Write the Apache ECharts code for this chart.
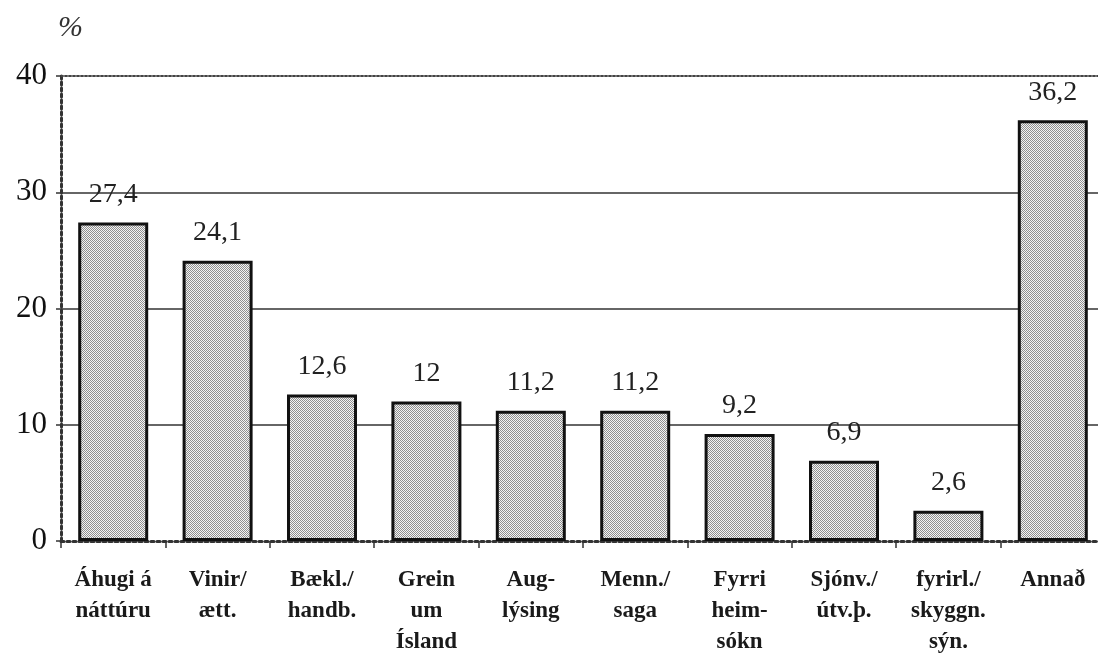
<!DOCTYPE html>
<html>
<head>
<meta charset="utf-8">
<script src="https://cdn.jsdelivr.net/npm/echarts@6/dist/echarts.min.js"></script>
<style>
  html, body { margin: 0; padding: 0; background: #fff; }
  #main { width: 1098px; height: 656px; }
</style>
</head>
<body>
<div id="main"></div>
<script>
var categories = [
  'Áhugi á\nnáttúru', 'Vinir/\nætt.', 'Bækl./\nhandb.', 'Grein\num\nÍsland', 'Aug-\nlýsing',
  'Menn./\nsaga', 'Fyrri\nheim-\nsókn', 'Sjónv./\nútv.þ.', 'fyrirl./\nskyggn.\nsýn.', 'Annað'
]
var values = [27.4, 24.1, 12.6, 12, 11.2, 11.2, 9.2, 6.9, 2.6, 36.2]
var yTicks = [0, 10, 20, 30, 40]

// stippled grey fill like the printed original
var dots = document.createElement('canvas')
dots.width = 2
dots.height = 2
var ctx = dots.getContext('2d')
ctx.fillStyle = '#f4f4f4'
ctx.fillRect(0, 0, 2, 2)
ctx.fillStyle = '#8f8f8f'
ctx.fillRect(0, 0, 1, 1)
ctx.fillRect(1, 1, 1, 1)

var serif = '"Liberation Serif", "DejaVu Serif", serif'
var myChart = echarts.init(document.getElementById('main'))

myChart.setOption({
  backgroundColor: '#fff',
  animation: false,
  title: {
    text: '%',
    left: 53,
    top: 8,
    textStyle: { fontFamily: serif, fontStyle: 'italic', fontWeight: 'normal', fontSize: 30, color: '#333' }
  },
  grid: { left: 61, right: -7, top: 76, bottom: 115, outerBoundsMode: 'none' },
  xAxis: [
    {
      type: 'category',
      data: categories,
      axisLine: { lineStyle: { color: '#333', width: 3, type: 'dotted' } },
      axisTick: { show: true, length: 7, lineStyle: { color: '#333', width: 1.5 } },
      axisLabel: {
        interval: 0,
        margin: 24,
        fontFamily: serif,
        fontWeight: 'bold',
        fontSize: 23,
        lineHeight: 31,
        color: '#1a1a1a'
      }
    },
    {
      type: 'category',
      position: 'top',
      data: categories,
      axisLine: { lineStyle: { color: '#444', width: 2, type: 'dotted' } },
      axisTick: { show: false },
      axisLabel: { show: false }
    }
  ],
  yAxis: {
    type: 'value',
    min: yTicks[0],
    max: yTicks[yTicks.length - 1],
    interval: 10,
    axisLine: { show: true, lineStyle: { color: '#333', width: 3, type: 'dotted' } },
    axisTick: { show: true, length: 5, lineStyle: { color: '#333', width: 1.5 } },
    axisLabel: { margin: 14, fontFamily: serif, fontSize: 31, color: '#111' },
    splitLine: {
      lineStyle: { color: ['transparent', '#333', '#333', '#333', 'transparent'], width: 1.5 }
    }
  },
  series: [
    {
      type: 'bar',
      data: values,
      barWidth: 70,
      itemStyle: {
        color: { image: dots, repeat: 'repeat' },
        borderColor: '#111',
        borderWidth: 3
      },
      label: {
        show: true,
        position: 'top',
        distance: 14,
        fontFamily: serif,
        fontSize: 28,
        color: '#222',
        formatter: function (p) {
          return String(p.value).replace('.', ',')
        }
      }
    }
  ]
})
window.onresize = myChart.resize
</script>
</body>
</html>
